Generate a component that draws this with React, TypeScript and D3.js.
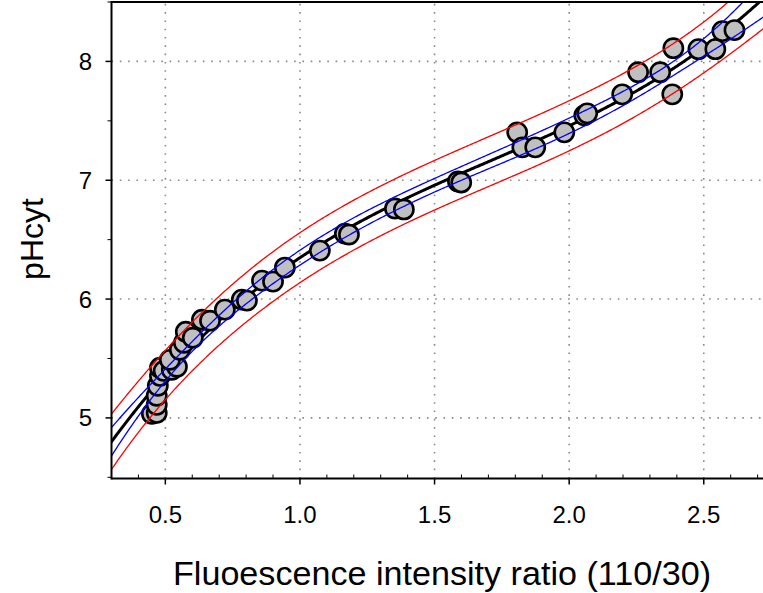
import React from "react";
import * as d3 from "d3";

const fluoRatio = [
  0.45, 0.468, 0.468, 0.468, 0.472, 0.48, 0.48, 0.494, 0.524, 0.543, 0.517, 0.554,
  0.569, 0.576, 0.602, 0.636, 0.666, 0.721, 0.784, 0.803, 0.859, 0.9, 0.944, 1.074,
  1.167, 1.182, 1.353, 1.386, 1.587, 1.599, 1.807, 1.826, 1.874, 1.982, 2.056, 2.067,
  2.197, 2.256, 2.338, 2.383, 2.387, 2.48, 2.543, 2.569, 2.614,
];
const pHcyt = [
  5.034, 5.042, 5.11, 5.186, 5.27, 5.354, 5.422, 5.396, 5.405, 5.43, 5.489, 5.573,
  5.632, 5.725, 5.675, 5.826, 5.818, 5.911, 5.995, 5.987, 6.155, 6.147, 6.265, 6.408,
  6.551, 6.543, 6.762, 6.754, 6.99, 6.981, 7.403, 7.277, 7.277, 7.403, 7.546, 7.563,
  7.723, 7.909, 7.909, 7.723, 8.111, 8.103, 8.103, 8.255, 8.263,
];
const xTicks = [0.5, 1.0, 1.5, 2.0, 2.5];
const yTicks = [5, 6, 7, 8];
const yMinorTicks = [4.5, 5.5, 6.5, 7.5, 8.5];
const xLabel = "Fluoescence intensity ratio (110/30)";
const yLabel = "pHcyt";
const T_CRIT = 2.02;

function invert4(m: number[][]): number[][] {
  const n = m.length;
  const a = m.map((r, i) => [...r, ...Array.from({ length: n }, (_, j) => (i === j ? 1 : 0))]);
  for (let c = 0; c < n; c++) {
    let p = c;
    for (let r = c + 1; r < n; r++) if (Math.abs(a[r][c]) > Math.abs(a[p][c])) p = r;
    [a[c], a[p]] = [a[p], a[c]];
    const pv = a[c][c];
    for (let k = 0; k < 2 * n; k++) a[c][k] /= pv;
    for (let r = 0; r < n; r++) {
      if (r === c) continue;
      const f = a[r][c];
      for (let k = 0; k < 2 * n; k++) a[r][k] -= f * a[c][k];
    }
  }
  return a.map((r) => r.slice(n));
}

function fitCubic(xs: number[], ys: number[]) {
  const n = xs.length;
  const basis = (x: number) => [1, x, x * x, x * x * x];
  const XtX = Array.from({ length: 4 }, () => [0, 0, 0, 0]);
  const Xty = [0, 0, 0, 0];
  xs.forEach((x, i) => {
    const b = basis(x);
    for (let r = 0; r < 4; r++) {
      Xty[r] += b[r] * ys[i];
      for (let c = 0; c < 4; c++) XtX[r][c] += b[r] * b[c];
    }
  });
  const inv = invert4(XtX);
  const beta = inv.map((r) => r.reduce((s, v, j) => s + v * Xty[j], 0));
  const f = (x: number) => basis(x).reduce((s, v, j) => s + v * beta[j], 0);
  let sse = 0;
  xs.forEach((x, i) => (sse += (ys[i] - f(x)) ** 2));
  const s = Math.sqrt(sse / (n - 4));
  const lev = (x: number) => {
    const b = basis(x);
    let h = 0;
    for (let r = 0; r < 4; r++) for (let c = 0; c < 4; c++) h += b[r] * inv[r][c] * b[c];
    return h;
  };
  return { f, s, lev };
}

export default function App() {
  const W = 763;
  const H = 593;
  const left = 111.5;
  const right = 763;
  const top = 2;
  const bottom = 478.5;
  const x = d3.scaleLinear().domain([0.3, 2.72]).range([left, right]);
  const y = d3.scaleLinear().domain([4.49, 8.5]).range([bottom, top]);

  const fit = fitCubic(fluoRatio, pHcyt);
  const xs = d3.range(0.28, 2.76, 0.005);
  const mk = (g: (v: number) => number) =>
    d3.line<number>().x((v) => x(v)).y((v) => y(g(v)))(xs) || "";
  const mean = mk(fit.f);
  const ciU = mk((v) => fit.f(v) + T_CRIT * fit.s * Math.sqrt(fit.lev(v)));
  const ciL = mk((v) => fit.f(v) - T_CRIT * fit.s * Math.sqrt(fit.lev(v)));
  const piU = mk((v) => fit.f(v) + T_CRIT * fit.s * Math.sqrt(1 + fit.lev(v)));
  const piL = mk((v) => fit.f(v) - T_CRIT * fit.s * Math.sqrt(1 + fit.lev(v)));

  const xMinor = d3.range(3, 28).map((v) => v / 10).filter((v) => !xTicks.some((t) => Math.abs(t - v) < 1e-9));
  const font = "'Liberation Sans', Arial, sans-serif";

  return (
    <svg width={W} height={H} style={{ position: "absolute", left: 0, top: 0, background: "#fff" }}>
      <defs>
        <clipPath id="plot">
          <rect x={left} y={top} width={right - left} height={bottom - top} />
        </clipPath>
      </defs>
      <rect x={0} y={0} width={W} height={H} fill="#fff" />
      <g stroke="#8a8a8a" strokeWidth={1.6} strokeDasharray="1.6 6.7">
        {xTicks.map((t) => (
          <line key={"gx" + t} x1={x(t)} x2={x(t)} y1={bottom} y2={top} />
        ))}
        {yTicks.map((t) => (
          <line key={"gy" + t} x1={left} x2={right} y1={y(t)} y2={y(t)} />
        ))}
      </g>
      <g clipPath="url(#plot)" fill="none">
        <path d={mean} stroke="#000" strokeWidth={3} />
        {fluoRatio.map((v, i) => (
          <circle key={i} cx={x(v)} cy={y(pHcyt[i])} r={9.6} fill="#c0c0c0" stroke="#000" strokeWidth={2.6} />
        ))}
        <path d={ciU} stroke="#0000ff" strokeWidth={1.3} />
        <path d={ciL} stroke="#0000ff" strokeWidth={1.3} />
        <path d={piU} stroke="#ff0000" strokeWidth={1.3} />
        <path d={piL} stroke="#ff0000" strokeWidth={1.3} />
      </g>
      <g stroke="#000">
        <line x1={left} x2={left} y1={top - 1} y2={bottom + 1} strokeWidth={2} />
        <line x1={left} x2={right} y1={bottom} y2={bottom} strokeWidth={2} />
        <line x1={left} x2={right} y1={top} y2={top} strokeWidth={2} />
        {xTicks.map((t) => (
          <line key={"xt" + t} x1={x(t)} x2={x(t)} y1={bottom} y2={bottom + 6} strokeWidth={1.5} />
        ))}
        {xMinor.map((t) => (
          <line key={"xm" + t} x1={x(t)} x2={x(t)} y1={bottom} y2={bottom - 4} strokeWidth={1} />
        ))}
        {yTicks.map((t) => (
          <line key={"yt" + t} x1={left - 6} x2={left} y1={y(t)} y2={y(t)} strokeWidth={1.5} />
        ))}
        {yMinorTicks.map((t) => (
          <line key={"ym" + t} x1={left - 4} x2={left} y1={y(t)} y2={y(t)} strokeWidth={1} />
        ))}
      </g>
      <g fontFamily={font} fontSize={24} fill="#000">
        {xTicks.map((t) => (
          <text key={"xl" + t} x={x(t)} y={522.5} textAnchor="middle">
            {t.toFixed(1)}
          </text>
        ))}
        {yTicks.map((t) => (
          <text key={"yl" + t} x={92} y={y(t) + 8.6} textAnchor="end">
            {t}
          </text>
        ))}
      </g>
      <text
        x={442}
        y={585}
        fontFamily={font}
        fontSize={33.5}
        textAnchor="middle"
        textLength={538}
        lengthAdjust="spacingAndGlyphs"
      >
        {xLabel}
      </text>
      <text
        transform="translate(43,239) rotate(-90)"
        fontFamily={font}
        fontSize={32}
        textAnchor="middle"
      >
        {yLabel}
      </text>
    </svg>
  );
}
